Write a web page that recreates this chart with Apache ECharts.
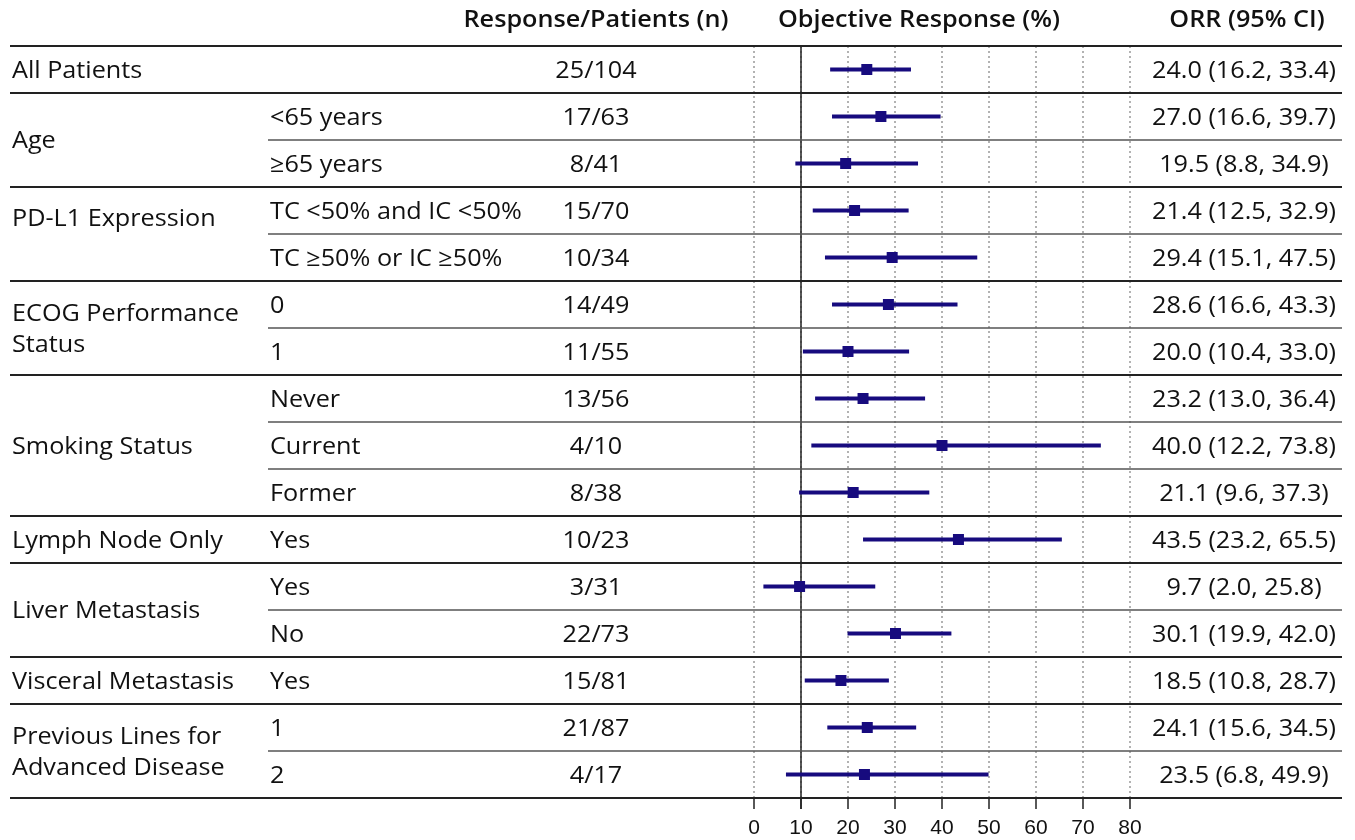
<!DOCTYPE html>
<html>
<head>
<meta charset="utf-8">
<script src="https://cdn.jsdelivr.net/npm/echarts@6/dist/echarts.min.js"></script>
<style>html,body{margin:0;padding:0;background:#fff}#c{width:1355px;height:840px}</style>
</head>
<body>
<div id="c"></div>
<script>
// ---- data ----
const groupLabels = ['All Patients', 'Age', 'PD-L1 Expression', 'ECOG Performance\nStatus', 'Smoking Status',
  'Lymph Node Only', 'Liver Metastasis', 'Visceral Metastasis', 'Previous Lines for\nAdvanced Disease'];
const groupSizes = [1, 2, 2, 2, 3, 1, 2, 1, 2];
const subgroups = ['', '<65 years', '≥65 years', 'TC <50% and IC <50%', 'TC ≥50% or IC ≥50%', '0', '1',
  'Never', 'Current', 'Former', 'Yes', 'Yes', 'No', 'Yes', '1', '2'];
const responses = ['25/104', '17/63', '8/41', '15/70', '10/34', '14/49', '11/55', '13/56', '4/10', '8/38',
  '10/23', '3/31', '22/73', '15/81', '21/87', '4/17'];
const orr = [24.0, 27.0, 19.5, 21.4, 29.4, 28.6, 20.0, 23.2, 40.0, 21.1, 43.5, 9.7, 30.1, 18.5, 24.1, 23.5];
const ciLow = [16.2, 16.6, 8.8, 12.5, 15.1, 16.6, 10.4, 13.0, 12.2, 9.6, 23.2, 2.0, 19.9, 10.8, 15.6, 6.8];
const ciHigh = [33.4, 39.7, 34.9, 32.9, 47.5, 43.3, 33.0, 36.4, 73.8, 37.3, 65.5, 25.8, 42.0, 28.7, 34.5, 49.9];
const headers = ['Response/Patients (n)', 'Objective Response (%)', 'ORR (95% CI)'];
const xMin = 0, xMax = 80, xStep = 10;
const refValue = 10;

// ---- layout / style ----
const FONT = '"Open Sans", "Noto Sans", sans-serif';
const FS = 24;
const SX = 1.05;      // horizontal stretch of text to mimic the wider original face
const DY = 1.5;       // baseline nudge
const TXT = '#111';
const MARK = '#170b7e';
const COL = { group: 12, sub: 270, resp: 596, orr: 1244, lineStart: 10, subLineStart: 268, lineEnd: 1342 };
const HEAD_X = [596, 919, 1247];
const groupNudge = { 2: -16 };

const fmt = v => v.toFixed(1);
const orrText = orr.map((v, i) => fmt(v) + ' (' + fmt(ciLow[i]) + ', ' + fmt(ciHigh[i]) + ')');

// group bookkeeping
const groupStart = [];
const groupEnd = new Array(subgroups.length).fill(0);
let acc = 0;
groupSizes.forEach(s => { groupStart.push(acc); acc += s; groupEnd[acc - 1] = 1; });

const rowIds = subgroups.map((_, i) => String(i));

function txt(text, x, y, align, weight, lh) {
  return {
    type: 'text', x: x, y: y + DY, scaleX: SX, scaleY: 1,
    style: { text: text, textAlign: align, textVerticalAlign: 'middle',
      font: (weight || 'normal') + ' ' + FS + 'px ' + FONT, fill: TXT, lineHeight: lh || undefined }
  };
}

const chart = echarts.init(document.getElementById('c'), null, { renderer: 'canvas' });

const option = {
  animation: false,
  grid: { left: 754, right: 225, top: 46, bottom: 42, containLabel: false },
  xAxis: {
    type: 'value', min: xMin, max: xMax, interval: xStep,
    axisLine: { show: false },
    axisTick: { show: true, length: 11, lineStyle: { color: '#222', width: 1.5 } },
    axisLabel: { fontFamily: 'Liberation Sans', fontSize: 21, color: TXT, margin: 20 },
    splitLine: { show: true, lineStyle: { color: '#999', width: 1.5, type: [2, 3] } }
  },
  yAxis: {
    type: 'category', data: rowIds, inverse: true,
    axisLine: { show: false }, axisTick: { show: false }, axisLabel: { show: false }, splitLine: { show: false }
  },
  graphic: headers.map((h, k) => txt(h, HEAD_X[k], 19, 'center', '600')),
  series: [
    {
      // row texts and separators
      type: 'custom', z: 3, clip: false, silent: true,
      data: subgroups.map((_, i) => [xMin, i, groupEnd[i]]),
      encode: { x: 0, y: 1 },
      renderItem: function (params, api) {
        const i = api.value(1);
        const yc = api.coord([xMin, i])[1];
        const band = api.size([0, 1])[1];
        const yb = yc + band / 2;
        const children = [];
        const full = api.value(2) === 1;
        children.push({ type: 'line', shape: { x1: full ? COL.lineStart : COL.subLineStart, y1: yb, x2: COL.lineEnd, y2: yb },
          style: { stroke: full ? '#222' : '#555', lineWidth: full ? 2 : 1.4 } });
        if (i === 0) {
          const yt = yc - band / 2;
          children.push({ type: 'line', shape: { x1: COL.lineStart, y1: yt, x2: COL.lineEnd, y2: yt }, style: { stroke: '#222', lineWidth: 2 } });
        }
        children.push(txt(subgroups[i], COL.sub, yc, 'left'));
        children.push(txt(responses[i], COL.resp, yc, 'center'));
        children.push(txt(orrText[i], COL.orr, yc, 'center'));
        return { type: 'group', children: children };
      }
    },
    {
      // group labels
      type: 'custom', z: 3, clip: false, silent: true,
      data: groupLabels.map((_, g) => [xMin, groupStart[g], groupSizes[g], g]),
      encode: { x: 0, y: 1 },
      renderItem: function (params, api) {
        const s = api.value(1), n = api.value(2), g = api.value(3);
        const y1 = api.coord([xMin, s])[1];
        const y2 = api.coord([xMin, s + n - 1])[1];
        const ym = (y1 + y2) / 2 + (groupNudge[g] || 0);
        return txt(groupLabels[g], COL.group, ym, 'left', 'normal', 31);
      }
    },
    {
      // reference line
      type: 'custom', z: 2, clip: false, silent: true,
      data: [[refValue, 0]],
      encode: { x: 0, y: 1 },
      renderItem: function (params, api) {
        const x = api.coord([api.value(0), 0])[0];
        const cs = params.coordSys;
        return { type: 'line', shape: { x1: x, y1: cs.y, x2: x, y2: cs.y + cs.height + 11 }, style: { stroke: '#222', lineWidth: 1.5 } };
      }
    },
    {
      // forest marks
      type: 'custom', z: 5, silent: true,
      data: orr.map((v, i) => [i, v, ciLow[i], ciHigh[i]]),
      encode: { y: 0, x: [1, 2, 3] },
      renderItem: function (params, api) {
        const i = api.value(0);
        const p = api.coord([api.value(1), i]);
        const lo = api.coord([api.value(2), i]);
        const hi = api.coord([api.value(3), i]);
        const sz = 11;
        return { type: 'group', children: [
          { type: 'line', shape: { x1: lo[0], y1: lo[1], x2: hi[0], y2: hi[1] }, style: { stroke: MARK, lineWidth: 4 } },
          { type: 'rect', shape: { x: p[0] - sz / 2, y: p[1] - sz / 2, width: sz, height: sz }, style: { fill: MARK } }
        ] };
      }
    }
  ]
};
chart.setOption(option);
</script>
</body>
</html>
